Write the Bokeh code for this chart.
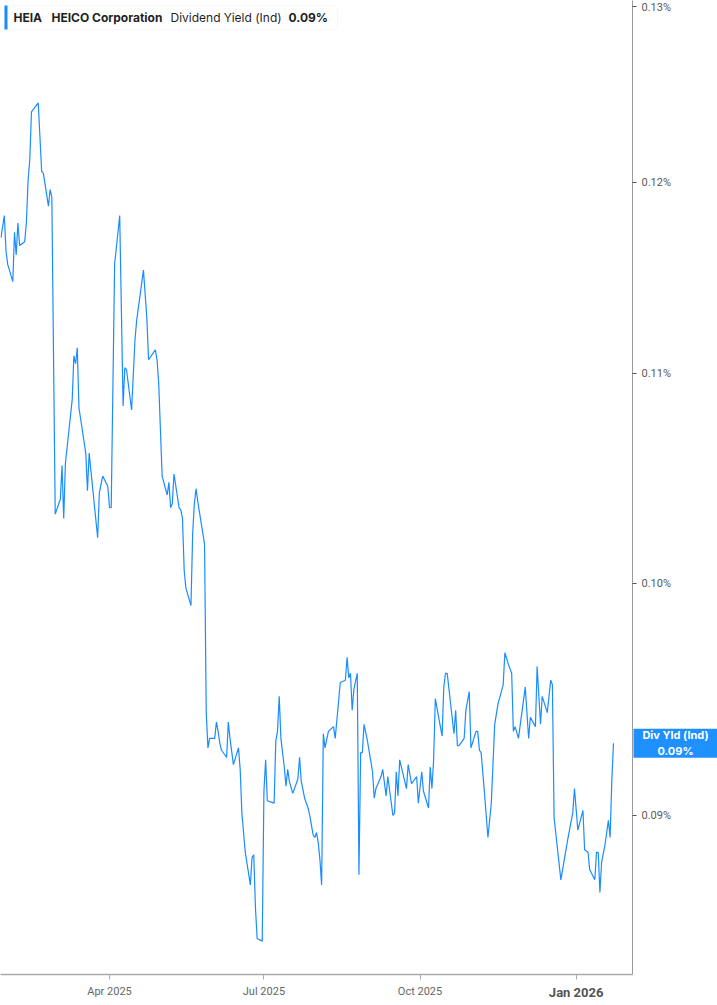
from datetime import datetime, timezone
import math
from bokeh.plotting import figure
from bokeh.models import (Range1d, FixedTicker, PrintfTickFormatter, DatetimeTickFormatter,
                          Label, BoxAnnotation, ColumnDataSource)
from bokeh.embed import file_html
from bokeh.resources import INLINE

# HEIA dividend yield (Ind), in percent
dates = [
    "2025-01-27", "2025-01-29", "2025-01-30", "2025-01-31", "2025-02-03", "2025-02-04", "2025-02-05",
    "2025-02-06", "2025-02-07", "2025-02-10", "2025-02-11", "2025-02-12", "2025-02-13", "2025-02-14",
    "2025-02-18", "2025-02-20", "2025-02-21", "2025-02-24", "2025-02-25", "2025-02-26", "2025-02-28",
    "2025-03-03", "2025-03-04", "2025-03-05", "2025-03-06", "2025-03-10", "2025-03-11", "2025-03-12",
    "2025-03-13", "2025-03-14", "2025-03-18", "2025-03-19", "2025-03-20", "2025-03-25", "2025-03-26",
    "2025-03-28", "2025-03-31", "2025-04-01", "2025-04-02", "2025-04-04", "2025-04-07", "2025-04-09",
    "2025-04-10", "2025-04-11", "2025-04-14", "2025-04-16", "2025-04-17", "2025-04-21", "2025-04-23",
    "2025-04-24", "2025-04-28", "2025-04-29", "2025-04-30", "2025-05-02", "2025-05-05", "2025-05-06",
    "2025-05-07", "2025-05-08", "2025-05-09", "2025-05-12", "2025-05-13", "2025-05-14", "2025-05-15",
    "2025-05-16", "2025-05-19", "2025-05-20", "2025-05-21", "2025-05-22", "2025-05-23", "2025-05-27",
    "2025-05-28", "2025-05-29", "2025-05-30", "2025-06-02", "2025-06-03", "2025-06-04", "2025-06-05",
    "2025-06-06", "2025-06-08", "2025-06-09", "2025-06-10", "2025-06-11", "2025-06-13", "2025-06-16",
    "2025-06-17", "2025-06-18", "2025-06-20", "2025-06-23", "2025-06-24", "2025-06-25", "2025-06-26",
    "2025-06-27", "2025-06-30", "2025-07-01", "2025-07-02", "2025-07-03", "2025-07-07", "2025-07-08",
    "2025-07-09", "2025-07-10", "2025-07-11", "2025-07-13", "2025-07-14", "2025-07-15", "2025-07-16",
    "2025-07-18", "2025-07-21", "2025-07-22", "2025-07-23", "2025-07-25", "2025-07-27", "2025-07-28",
    "2025-07-30", "2025-07-31", "2025-08-01", "2025-08-02", "2025-08-03", "2025-08-04", "2025-08-05",
    "2025-08-06", "2025-08-08", "2025-08-11", "2025-08-12", "2025-08-15", "2025-08-18", "2025-08-19",
    "2025-08-20", "2025-08-21", "2025-08-22", "2025-08-23", "2025-08-25", "2025-08-26", "2025-08-27",
    "2025-08-28", "2025-08-29", "2025-08-31", "2025-09-03", "2025-09-04", "2025-09-05", "2025-09-08",
    "2025-09-09", "2025-09-11", "2025-09-12", "2025-09-15", "2025-09-16", "2025-09-17", "2025-09-18",
    "2025-09-19", "2025-09-23", "2025-09-24", "2025-09-26", "2025-09-29", "2025-09-30", "2025-10-02",
    "2025-10-03", "2025-10-06", "2025-10-07", "2025-10-08", "2025-10-09", "2025-10-10", "2025-10-14",
    "2025-10-15", "2025-10-16", "2025-10-17", "2025-10-21", "2025-10-22", "2025-10-23", "2025-10-24",
    "2025-10-27", "2025-10-28", "2025-10-30", "2025-10-31", "2025-11-03", "2025-11-04", "2025-11-05",
    "2025-11-06", "2025-11-08", "2025-11-10", "2025-11-12", "2025-11-14", "2025-11-16", "2025-11-19",
    "2025-11-20", "2025-11-22", "2025-11-24", "2025-11-25", "2025-11-26", "2025-11-28", "2025-12-02",
    "2025-12-04", "2025-12-05", "2025-12-08", "2025-12-09", "2025-12-11", "2025-12-12", "2025-12-15",
    "2025-12-17", "2025-12-18", "2025-12-19", "2025-12-23", "2025-12-27", "2025-12-30", "2025-12-31",
    "2026-01-02", "2026-01-05", "2026-01-06", "2026-01-08", "2026-01-09", "2026-01-12", "2026-01-13",
    "2026-01-14", "2026-01-15", "2026-01-16", "2026-01-18", "2026-01-20", "2026-01-21", "2026-01-22",
    "2026-01-23",
]
yld = [
    0.1170, 0.1182, 0.1163, 0.1156, 0.1147, 0.1173, 0.1161,
    0.1178, 0.1166, 0.1168, 0.1178, 0.1201, 0.1212, 0.1239,
    0.1244, 0.1206, 0.1205, 0.1187, 0.1196, 0.1192, 0.1032,
    0.1039, 0.1055, 0.1030, 0.1056, 0.1087, 0.1109, 0.1105,
    0.1113, 0.1083, 0.1061, 0.1043, 0.1061, 0.1021, 0.1042,
    0.1050, 0.1045, 0.1035, 0.1035, 0.1156, 0.1182, 0.1084,
    0.1103, 0.1102, 0.1082, 0.1117, 0.1127, 0.1153, 0.1128,
    0.1107, 0.1112, 0.1107, 0.1095, 0.1050, 0.1041, 0.1047,
    0.1035, 0.1037, 0.1051, 0.1035, 0.1034, 0.1030, 0.1006,
    0.0998, 0.0990, 0.1023, 0.1037, 0.1044, 0.1038, 0.1018,
    0.0943, 0.0928, 0.0932, 0.0932, 0.0939, 0.0935, 0.0930,
    0.0927, 0.0925, 0.0924, 0.0939, 0.0932, 0.0921, 0.0928,
    0.0919, 0.0901, 0.0885, 0.0872, 0.0883, 0.0884, 0.0863,
    0.0851, 0.0850, 0.0910, 0.0923, 0.0906, 0.0905, 0.0931,
    0.0935, 0.0950, 0.0932, 0.0920, 0.0912, 0.0919, 0.0914,
    0.0909, 0.0915, 0.0924, 0.0914, 0.0907, 0.0903, 0.0900,
    0.0892, 0.0891, 0.0893, 0.0889, 0.0882, 0.0872, 0.0934,
    0.0928, 0.0935, 0.0937, 0.0932, 0.0956, 0.0957, 0.0967,
    0.0958, 0.0960, 0.0944, 0.0953, 0.0960, 0.0876, 0.0926,
    0.0926, 0.0938, 0.0931, 0.0918, 0.0907, 0.0911, 0.0916,
    0.0919, 0.0908, 0.0916, 0.0900, 0.0901, 0.0918, 0.0908,
    0.0923, 0.0911, 0.0921, 0.0913, 0.0916, 0.0905, 0.0918,
    0.0910, 0.0903, 0.0920, 0.0911, 0.0923, 0.0949, 0.0933,
    0.0954, 0.0960, 0.0960, 0.0934, 0.0944, 0.0929, 0.0929,
    0.0932, 0.0944, 0.0952, 0.0928, 0.0935, 0.0935, 0.0927,
    0.0926, 0.0909, 0.0891, 0.0905, 0.0938, 0.0947, 0.0955,
    0.0969, 0.0964, 0.0960, 0.0935, 0.0937, 0.0932, 0.0954,
    0.0932, 0.0941, 0.0937, 0.0963, 0.0938, 0.0950, 0.0943,
    0.0957, 0.0955, 0.0899, 0.0874, 0.0890, 0.0901, 0.0911,
    0.0894, 0.0902, 0.0886, 0.0885, 0.0878, 0.0874, 0.0885,
    0.0885, 0.0869, 0.0881, 0.0888, 0.0898, 0.0891, 0.0914,
    0.0930,
]
y_ticks = [0.09, 0.10, 0.11, 0.12, 0.13]
x_ticks = ["2025-04-01", "2025-07-01", "2025-10-01", "2026-01-01"]

LINE = "#1a8cff"
GREY = "#666666"
W, H = 717, 1005
FRAME_W, FRAME_H = 632, 974
x0, x1 = datetime(2025, 1, 26, 18), datetime(2026, 2, 3, 5)
y0, y1 = 0.08372, 0.13033
PINNED = {"position": "absolute", "left": "0px", "top": "0px"}


def day(s):
    return datetime.strptime(s, "%Y-%m-%d")


def ms(s):
    return day(s).replace(tzinfo=timezone.utc).timestamp() * 1000


def px_x(d):
    # pixel column of a date in the main frame
    return FRAME_W * (d - x0) / (x1 - x0)


def px_y(v):
    # pixel row of a value in the main frame (log scale)
    return FRAME_H * (math.log(y1) - math.log(v)) / (math.log(y1) - math.log(y0))


src = ColumnDataSource(data=dict(x=[day(d) for d in dates], y=yld))

p = figure(width=W, height=H, x_axis_type="datetime", y_axis_type="log",
           y_axis_location="right", output_backend="svg", toolbar_location=None,
           x_range=(x0, x1), y_range=Range1d(y0, y1),
           min_border_left=0, min_border_top=0,
           min_border_right=W - FRAME_W, min_border_bottom=H - FRAME_H)
p.styles = PINNED
p.outline_line_color = None
p.background_fill_color = "white"
p.border_fill_color = "white"
p.xgrid.visible = False
p.ygrid.visible = False

p.line("x", "y", source=src, line_color=LINE, line_width=1.2)

# y axis on the right
ya = p.yaxis[0]
ya.ticker = FixedTicker(ticks=y_ticks, minor_ticks=[])
ya.formatter = PrintfTickFormatter(format="%.2f%%")
ya.axis_line_color = "#9a9a9a"
ya.major_tick_line_color = "#555555"
ya.major_tick_in = 0
ya.major_tick_out = 4
ya.minor_tick_line_color = None
ya.major_label_text_color = "#5a5a5a"
ya.major_label_text_font = "Roboto"
ya.major_label_text_font_size = "11px"
ya.major_label_standoff = 5

# x axis
xa = p.xaxis[0]
xa.ticker = FixedTicker(ticks=[ms(t) for t in x_ticks], minor_ticks=[])
xa.formatter = DatetimeTickFormatter(months="%b %Y", days="%b %Y")
xa.major_label_overrides = {ms(x_ticks[-1]): ""}
xa.axis_line_color = "#aaaaaa"
xa.axis_line_width = 1.5
xa.major_tick_line_color = "#aaaaaa"
xa.major_tick_in = 0
xa.major_tick_out = 5
xa.minor_tick_line_color = None
xa.major_label_text_color = GREY
xa.major_label_text_font = "Roboto"
xa.major_label_text_font_size = "11px"
xa.major_label_standoff = 5

# transparent layer over the whole page for the labels that sit outside the frame
over = figure(width=W, height=H, x_range=Range1d(0, W), y_range=Range1d(H, 0),
              x_axis_location=None, y_axis_location=None, output_backend="svg",
              toolbar_location=None, min_border=0)
over.styles = PINNED
over.outline_line_color = None
over.background_fill_alpha = 0
over.border_fill_alpha = 0
over.grid.visible = False

# year label, bold
over.add_layout(Label(x=px_x(day(x_ticks[-1])), y=FRAME_H + 18, text="Jan 2026",
                      text_align="center", text_baseline="middle", text_font="Roboto",
                      text_font_size="13px", text_font_style="bold", text_color="#555555"))

# header box
over.add_layout(BoxAnnotation(left=4, right=337, top=5, bottom=29,
                              fill_color="white", fill_alpha=1, line_color="#e4e4e4",
                              border_radius=4))
over.add_layout(BoxAnnotation(left=4, right=7, top=5, bottom=29,
                              fill_color=LINE, fill_alpha=1, line_color=None))
head = [("HEIA", 13, "bold"), ("HEICO Corporation", 51, "bold"),
        ("Dividend Yield (Ind)", 170, "normal"), ("%.2f%%" % yld[-1], 288, "bold")]
for txt, x, style in head:
    over.add_layout(Label(x=x, y=17, text=txt, text_baseline="middle", text_font="Inter",
                          text_font_size="12px", text_font_style=style, text_color="#1f1f1f"))

# last value tag on the right axis
tag_y = px_y(yld[-1])
over.add_layout(BoxAnnotation(left=FRAME_W + 1, right=W, top=tag_y - 14.5, bottom=tag_y + 14.5,
                              fill_color="#1e90ff", fill_alpha=1, line_color=None))
over.add_layout(Label(x=(FRAME_W + 1 + W) / 2, y=tag_y, text="Div Yld (Ind)\n%.2f%%" % yld[-1],
                      text_align="center", text_baseline="middle", text_font="Inter",
                      text_font_size="11px", text_font_style="bold", text_color="white",
                      text_line_height=1.1))

open("out.html", "w").write(file_html([p, over], INLINE))
